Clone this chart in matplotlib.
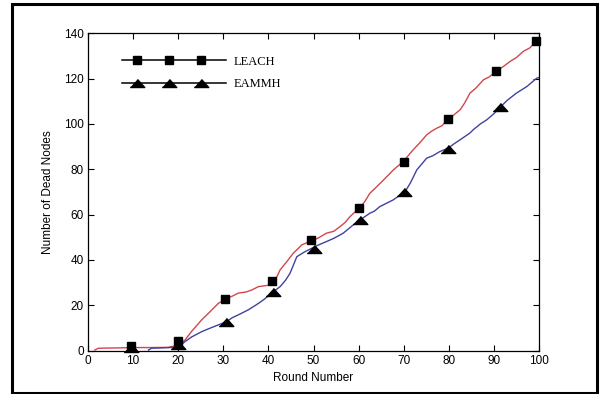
import matplotlib
matplotlib.use("Agg")
import numpy as np
import matplotlib.pyplot as plt
from matplotlib.lines import Line2D
from matplotlib.legend_handler import HandlerLine2D, HandlerTuple
from matplotlib.patches import Rectangle

# ---- data ----
leach_rounds = [1.5, 2.3, 5, 8, 11, 14, 17.8, 20, 21.5, 23, 25.2, 27, 28.9, 30.4, 32, 33.3,
                35, 36.3, 37.8, 40.4, 41.5, 42.6, 44, 45.5, 47.4, 49.6, 51, 52.9, 54.5, 55.9,
                57, 58.1, 60.1, 61.3, 62.5, 63.3, 65.5, 67.7, 69.9, 72.1, 73.5, 75.1, 76.2,
                77.3, 78.5, 79.7, 81, 82.5, 83.5, 84.7, 86, 87.7, 89, 90.5, 92, 93.6, 95,
                96.5, 98, 99.3, 100]
leach_dead = [0.2, 1.0, 1.1, 1.2, 1.3, 1.3, 1.4, 2.4, 4.6, 8.5, 13.5, 17, 20.8, 22.7, 24, 25.3,
              25.8, 26.7, 28.2, 28.9, 31, 35.6, 39, 42.9, 46.6, 48.5, 49.6, 51.8, 52.6, 54.7,
              56.5, 59.1, 62.8, 65.5, 69.4, 70.9, 75.2, 79.7, 83.4, 88.6, 91.5, 95.2, 96.8,
              98.1, 99.2, 102.1, 103.8, 106.2, 109.2, 113.6, 115.8, 119.5, 120.8, 123.4, 125.2,
              127.6, 129.3, 132, 133.6, 136.4, 137.2]

eammh_rounds = [13.4, 14.1, 17, 19.3, 20.5, 21.5, 23, 25.2, 27, 28.9, 30.7, 32, 33.3, 35.5,
                37.8, 39, 40.7, 42.6, 43.8, 44.8, 46.3, 48, 49.6, 51, 52.9, 54.5, 56.6, 58.8,
                60.3, 62.5, 63.5, 64.7, 67.7, 70.3, 71.5, 72.9, 75.1, 76.5, 78, 79.9, 81,
                82.5, 84.7, 85.4, 87, 88.4, 90, 91.4, 93, 95, 97.3, 99.5, 100]
eammh_dead = [0.2, 1.0, 1.2, 1.4, 2.2, 3.9, 6, 8.3, 9.8, 11.3, 12.7, 14.5, 15.7, 17.9,
              20.8, 22.5, 25.3, 28.2, 31, 34.1, 41.4, 43.5, 45.1, 46.5, 48.1, 49.5, 51.8, 55.4,
              57.6, 60.6, 61.5, 63.5, 66.5, 70.1, 74, 79.7, 84.9, 86, 87.8, 89.3, 91,
              93, 96, 97.4, 100, 101.8, 104.5, 107.4, 110.5, 113.6, 116.5, 120.2, 120.5]

leach_marker_rounds = [9.5, 19.9, 30.4, 40.9, 49.5, 60.0, 70.0, 79.8, 90.5, 99.4]
leach_marker_dead = [2.1, 4.3, 22.7, 30.7, 48.6, 62.8, 83.3, 102.1, 123.4, 136.4]
eammh_marker_rounds = [9.6, 20.0, 30.7, 41.1, 50.0, 60.3, 70.1, 79.9, 91.4]
eammh_marker_dead = [1.0, 2.4, 12.7, 26.0, 45.0, 57.4, 70.0, 89.0, 107.4]

series_names = ["LEACH", "EAMMH"]
x_ticks = [0, 10, 20, 30, 40, 50, 60, 70, 80, 90, 100]
y_ticks = [0, 20, 40, 60, 80, 100, 120, 140]


class MarkerRowHandler(HandlerLine2D):
    """Three legend markers placed inside a longer legend line."""
    def get_xdata(self, legend, xdescent, ydescent, width, height, fontsize):
        x = np.linspace(-xdescent + 0.145 * width, -xdescent + 0.76 * width, 3)
        return x, x


# ---- figure ----
W, H = 603, 394
fig = plt.figure(figsize=(W / 100, H / 100), dpi=100)
fig.patch.set_facecolor("white")
ax = fig.add_axes([88 / W, 1 - 350.5 / H, (539 - 88) / W, (350.5 - 33.3) / H])

red = "#d2464c"
blue = "#40429e"
ax.plot(leach_rounds, leach_dead, color=red, lw=1.0)
ax.plot(eammh_rounds, eammh_dead, color=blue, lw=1.0)

tri = [(-1, -0.55), (1, -0.55), (0, 0.55)]
ax.plot(leach_marker_rounds, leach_marker_dead, ls="none", marker="s", ms=5.5,
        color="black", clip_on=False)
ax.plot(eammh_marker_rounds, eammh_marker_dead, ls="none", marker=tri, ms=10.5,
        color="black", clip_on=False)

ax.set_xlim(0, 100)
ax.set_ylim(0, 140)
ax.set_xticks(x_ticks)
ax.set_yticks(y_ticks)
ax.tick_params(direction="in", length=4, width=0.8, top=True, right=True,
               labelsize=8.5, pad=3)
for lab in ax.get_xticklabels() + ax.get_yticklabels():
    lab.set_family("Liberation Sans")
for s in ax.spines.values():
    s.set_linewidth(0.9)

ax.set_xlabel("Round Number", family="Liberation Sans", fontsize=8.5, labelpad=4)
ax.set_ylabel("Number of Dead Nodes", family="Liberation Sans", fontsize=8.5, labelpad=7)

line_only = [Line2D([], [], color="black", lw=1.1), Line2D([], [], color="black", lw=1.1)]
mark_only = [Line2D([], [], ls="none", color="black", marker="s", ms=5.5),
             Line2D([], [], ls="none", color="black", marker=tri, ms=10.5)]
hm = {m: MarkerRowHandler(numpoints=3) for m in mark_only}
hm[tuple] = HandlerTuple(ndivide=1, pad=0)
handles = [(line_only[0], mark_only[0]), (line_only[1], mark_only[1])]
leg = ax.legend(handles, series_names, loc="upper left", bbox_to_anchor=(0.0754, 0.93),
                borderaxespad=0, borderpad=0, numpoints=1,
                frameon=False, handlelength=8.3, handletextpad=0.6, labelspacing=0.85,
                handler_map=hm, prop={"family": "Liberation Serif", "size": 9})

fig.patches.append(Rectangle((12 / W, 1 - 392.5 / H), 585 / W, 388.5 / H,
                             transform=fig.transFigure, fill=False, lw=2.2,
                             edgecolor="black"))

fig.savefig("out.png", dpi=100, facecolor="white")
